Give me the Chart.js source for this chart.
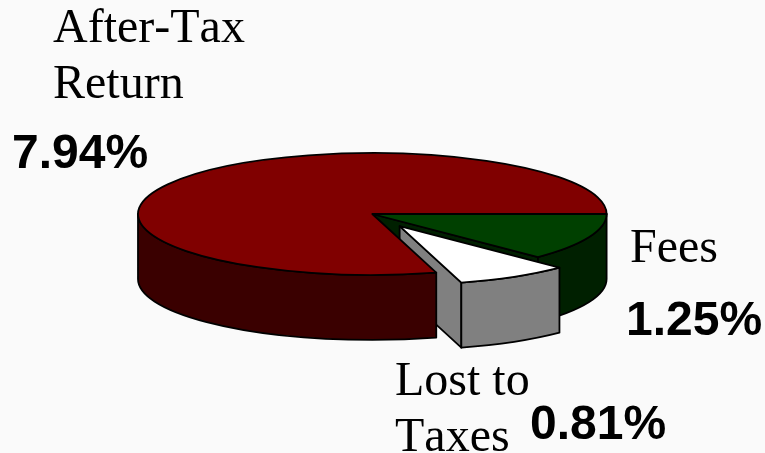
<!DOCTYPE html>
<html>
<head>
<meta charset="utf-8">
<title>Return breakdown</title>
<style>
  html, body { margin: 0; padding: 0; background: #fafafa; overflow: hidden; }
  #wrap { position: relative; width: 765px; height: 453px; }
</style>
<script src="https://cdn.jsdelivr.net/npm/chart.js@4/dist/chart.umd.min.js"></script>
</head>
<body>
<div id="wrap"><canvas id="returnPie" width="765" height="453"></canvas></div>
<script>
  const categories = ['Fees', 'Lost to Taxes', 'After-Tax Return'];
  const values = [1.25, 0.81, 7.94];
  const topColors = ['#004000', '#ffffff', '#800000'];
  const sideColors = ['#002000', '#808080', '#3a0000'];
  const labelLines = [['Fees'], ['Lost to', 'Taxes'], ['After-Tax', 'Return']];

  // look of the tilted disc
  const TILT = 0.26;
  const DEPTH = 65;
  const RADIUS = 234.3;
  const PULLED_SLICE = 1;
  const PULL_DISTANCE = 54;
  const PULLED_RADIUS = 226;

  // pie with a squashed top and extruded sides, painted slice by slice
  class TiltedPieController extends Chart.PieController {
    static id = 'tiltedPie';

    update(mode) {
      super.update(mode);
      const arc = this._cachedMeta.data[PULLED_SLICE];
      const mid = (arc.startAngle + arc.endAngle) / 2;
      arc.x += Math.cos(mid) * PULL_DISTANCE;
      arc.y += Math.sin(mid) * PULL_DISTANCE;
      arc.outerRadius = PULLED_RADIUS;
    }

    drawSideFaces(ctx, arcs, i) {
      const arc = arcs[i];
      const n = arcs.length;
      const ry = arc.outerRadius * TILT;
      const cy = this.chart.chartArea.top + this.chart.chartArea.height / 2;
      const y0 = cy + (arc.y - cy) * TILT;
      ctx.fillStyle = sideColors[i];

      const rim = (angle) => [arc.x + arc.outerRadius * Math.cos(angle), y0 + ry * Math.sin(angle)];
      const cutFace = (angle) => {
        const p = rim(angle);
        ctx.beginPath();
        ctx.moveTo(arc.x, y0);
        ctx.lineTo(p[0], p[1]);
        ctx.lineTo(p[0], p[1] + DEPTH);
        ctx.lineTo(arc.x, y0 + DEPTH);
        ctx.closePath();
        ctx.fill();
        ctx.stroke();
      };

      // a cut edge only shows next to the pulled slice and when it faces the viewer
      const nearPull = (j) => j === PULLED_SLICE || i === PULLED_SLICE;
      if (-Math.cos(arc.startAngle) > 0 && nearPull((i + n - 1) % n)) cutFace(arc.startAngle);
      if (Math.cos(arc.endAngle) > 0 && nearPull((i + 1) % n)) cutFace(arc.endAngle);

      // outer wall, front half only
      const from = Math.max(arc.startAngle, 0);
      const to = Math.min(arc.endAngle, Math.PI);
      if (to > from) {
        ctx.beginPath();
        ctx.ellipse(arc.x, y0, arc.outerRadius, ry, 0, from, to);
        ctx.ellipse(arc.x, y0 + DEPTH, arc.outerRadius, ry, 0, to, from, true);
        ctx.closePath();
        ctx.fill();
        ctx.stroke();
      }
    }

    draw() {
      const ctx = this.chart.ctx;
      const area = this.chart.chartArea;
      const arcs = this._cachedMeta.data;
      const cy = area.top + area.height / 2;
      ctx.save();
      ctx.strokeStyle = '#000000';
      ctx.lineWidth = 1.8;
      ctx.lineJoin = 'round';
      arcs.forEach((arc, i) => {
        this.drawSideFaces(ctx, arcs, i);

        ctx.save();
        ctx.translate(0, cy);
        ctx.scale(1, TILT);
        ctx.translate(0, -cy);
        arc.draw(ctx, area);
        ctx.restore();

        // outline stroked outside the squash so the pen stays even
        const y0 = cy + (arc.y - cy) * TILT;
        ctx.beginPath();
        ctx.moveTo(arc.x, y0);
        ctx.ellipse(arc.x, y0, arc.outerRadius, arc.outerRadius * TILT, 0, arc.startAngle, arc.endAngle);
        ctx.closePath();
        ctx.stroke();
      });
      ctx.restore();
    }
  }
  Chart.register(TiltedPieController);

  // slice names in serif, amounts in bold sans
  const sliceLabels = {
    id: 'sliceLabels',
    afterDraw(chart, args, opts) {
      const ctx = chart.ctx;
      ctx.save();
      ctx.fillStyle = '#000000';
      ctx.textAlign = 'left';
      ctx.textBaseline = 'alphabetic';
      ctx.fontKerning = 'none';
      opts.spots.forEach((spot, i) => {
        ctx.font = '48px "Liberation Serif"';
        labelLines[i].forEach((line, k) => {
          ctx.fillText(line, spot.nameX, spot.nameY + k * opts.lineGap);
        });
        ctx.font = 'bold 48px "Liberation Sans"';
        ctx.fillText(values[i].toFixed(2) + '%', spot.valueX, spot.valueY);
      });
      ctx.restore();
    }
  };

  new Chart(document.getElementById('returnPie'), {
    type: 'tiltedPie',
    data: {
      labels: categories,
      datasets: [{
        data: values,
        backgroundColor: topColors,
        borderWidth: 0,
        clip: false
      }]
    },
    options: {
      responsive: false,
      animation: false,
      rotation: 90,
      radius: RADIUS,
      layout: { padding: { right: 20.4, bottom: 25 } },
      plugins: {
        legend: { display: false },
        tooltip: { enabled: false },
        sliceLabels: {
          lineGap: 56,
          spots: [
            { nameX: 630, nameY: 262, valueX: 626, valueY: 335 },
            { nameX: 395, nameY: 395, valueX: 530, valueY: 439 },
            { nameX: 53, nameY: 42, valueX: 12, valueY: 168 }
          ]
        }
      }
    },
    plugins: [sliceLabels]
  });
</script>
</body>
</html>
